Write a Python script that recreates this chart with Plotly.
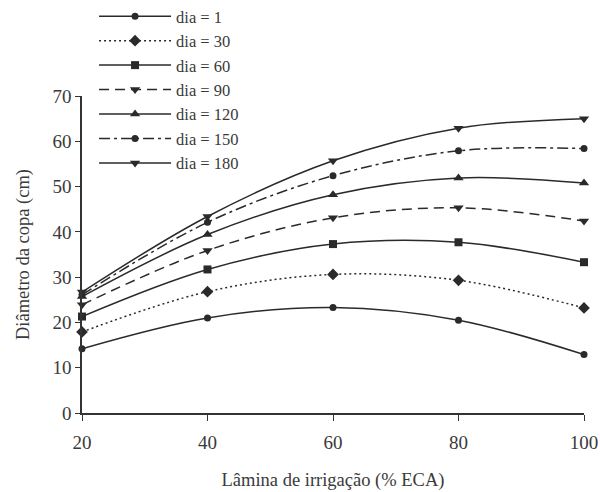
import plotly.graph_objects as go

lamina = [20, 40, 60, 80, 100]
dias = ["dia = 1", "dia = 30", "dia = 60", "dia = 90", "dia = 120", "dia = 150", "dia = 180"]
dia_1 = [14.2, 21.0, 23.3, 20.5, 12.9]
dia_30 = [17.9, 26.8, 30.6, 29.3, 23.2]
dia_60 = [21.3, 31.7, 37.3, 37.7, 33.3]
dia_90 = [23.9, 35.9, 43.1, 45.3, 42.4]
dia_120 = [25.7, 39.4, 48.2, 51.9, 50.8]
dia_150 = [26.1, 42.1, 52.4, 57.9, 58.4]
dia_180 = [26.7, 43.4, 55.7, 62.9, 65.0]

series = [dia_1, dia_30, dia_60, dia_90, dia_120, dia_150, dia_180]
dashes = ["solid", "2px,3px", "solid", "10px,6px", "solid", "11px,4px,3px,4px", "solid"]
symbols = ["circle", "diamond", "square", "triangle-down", "triangle-up", "circle", "triangle-down"]
sizes = [7, 9, 8, 9, 9, 7, 9]

COL = "#2a2a2a"
FONT = "Liberation Serif"

fig = go.Figure()
for name, vals, dash, sym, sz in zip(dias, series, dashes, symbols, sizes):
    fig.add_trace(go.Scatter(
        x=lamina, y=vals, name=name, mode="lines+markers",
        line=dict(color=COL, width=1.5, dash=dash, shape="spline", smoothing=1.0),
        marker=dict(symbol=sym, size=sz, color=COL),
        cliponaxis=False,
    ))

fig.update_layout(
    width=600, height=492,
    margin=dict(l=82, r=16, t=96, b=79, autoexpand=False),
    plot_bgcolor="white", paper_bgcolor="white",
    font=dict(family=FONT, size=19, color="#3a3a3a"),
    showlegend=True,
    legend=dict(x=0.024, y=1.306, xanchor="left", yanchor="top",
                font=dict(family=FONT, size=16.5, color="#3a3a3a"),
                itemwidth=72,
                bgcolor="rgba(0,0,0,0)", tracegroupgap=0),
    xaxis=dict(range=[20, 100], tickvals=lamina, showgrid=False, zeroline=False,
               showline=True, linecolor="#333", linewidth=1.5,
               ticks="outside", ticklen=6, tickcolor="#333",
               ticklabelstandoff=5,
               tickfont=dict(family=FONT, size=19),
               title=dict(text="Lâmina de irrigação (% ECA)", standoff=22,
                          font=dict(family=FONT, size=18.5))),
    yaxis=dict(range=[0, 70], dtick=10, showgrid=False, zeroline=False,
               showline=True, linecolor="#333", linewidth=1.5,
               ticks="outside", ticklen=5, tickcolor="#333",
               tickfont=dict(family=FONT, size=19),
               title=dict(text="Diâmetro da copa (cm)", standoff=18,
                          font=dict(family=FONT, size=18.5))),
)

fig.write_html("out.html", config={"displayModeBar": False},
               post_script="document.body.style.margin='0';document.body.style.overflow='hidden';")
